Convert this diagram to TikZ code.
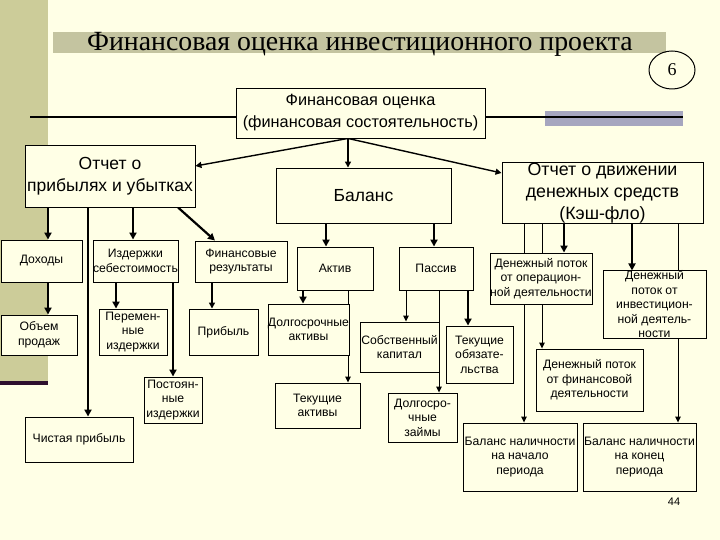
\documentclass[tikz,border=0pt]{standalone}
\usepackage{fontspec}
\setmainfont{Liberation Sans}
\newfontfamily\serifru{Liberation Serif}
\usetikzlibrary{arrows.meta,shapes.geometric}
\definecolor{bgc}{HTML}{FFFFE6}
\definecolor{band}{HTML}{CCCC99}
\definecolor{tbar}{HTML}{C4C4A0}
\definecolor{dpurp}{HTML}{2D0F2D}
\definecolor{gbar}{HTML}{A6A6BF}
\pgfdeclarelayer{back}
\pgfsetlayers{back,main}
\tikzset{
  box/.style={draw=black, line width=0.9pt, fill=bgc, inner sep=0pt, align=center, text=black},
  bigt/.style={font=\fontsize{17.5}{22}\selectfont},
  smt/.style={font=\fontsize{12.2}{14.5}\selectfont},
  thk/.style={line width=2.2pt, -{Triangle[length=7pt,width=7pt]}},
  mdm/.style={line width=1.4pt, -{Triangle[length=6pt,width=6pt]}},
  thn/.style={line width=0.9pt, -{Triangle[length=6pt,width=5.5pt]}},
}
\begin{document}
\begin{tikzpicture}[x=1pt,y=-1pt]
\useasboundingbox (0,0) rectangle (720,540);

% nodes
\node[box,font=\fontsize{16.3}{22}\selectfont,minimum width=249pt,minimum height=50pt] (top) at (360.5,113) {Финансовая оценка\\(финансовая состоятельность)};
\node[box,bigt,minimum width=170pt,minimum height=62pt] (pl) at (110,176) {Отчет о\\прибылях и убытках};
\node[box,bigt,minimum width=175pt,minimum height=55pt] (bal) at (363.5,195.5) {Баланс};
\node[box,font=\fontsize{17.8}{22}\selectfont,minimum width=201pt,minimum height=60pt] (cf) at (602.5,193) {Отчет о движении\\денежных средств\\(Кэш-фло)};

\node[box,smt,minimum width=81pt,minimum height=42pt] (doh) at (41.5,261) {Доходы};
\node[box,smt,minimum width=85pt,minimum height=42pt] (izd) at (135.5,261) {Издержки\\себестоимость};
\node[box,smt,minimum width=92pt,minimum height=41pt] (fin) at (241,261.5) {Финансовые\\результаты};
\node[box,smt,minimum width=76pt,minimum height=43pt] (akt) at (335,268.5) {Актив};
\node[box,smt,minimum width=74pt,minimum height=43pt] (pas) at (436,268.5) {Пассив};
\node[box,smt,minimum width=102pt,minimum height=51pt] (op) at (541,278.5) {Денежный поток\\от операцион-\\ной деятельности};
\node[box,smt,minimum width=103pt,minimum height=67pt] (inv) at (654.5,304.5) {Денежный\\поток от\\инвестицион-\\ной деятель-\\ности};

\node[box,smt,minimum width=76pt,minimum height=40pt] (obj) at (39,335) {Объем\\продаж};
\node[box,smt,minimum width=68pt,minimum height=46pt] (per) at (133,332) {Перемен-\\ные\\издержки};
\node[box,smt,minimum width=69pt,minimum height=46pt] (prib) at (223.5,332) {Прибыль};
\node[box,smt,minimum width=79pt,minimum height=51pt] (dolg) at (308.5,329.5) {Долгосрочные\\активы};
\node[box,smt,minimum width=85pt,minimum height=45pt] (tekakt) at (317.5,405.5) {Текущие\\активы};
\node[box,smt,minimum width=79pt,minimum height=50pt] (sob) at (399.5,347) {Собственный\\капитал};
\node[box,smt,minimum width=67pt,minimum height=57pt] (tekob) at (479.5,354.5) {Текущие\\обязате-\\льства};
\node[box,smt,minimum width=69pt,minimum height=49pt] (zaim) at (422.5,417.5) {Долгосро-\\чные\\займы};
\node[box,smt,minimum width=58pt,minimum height=46pt] (post) at (173,400) {Постоян-\\ные\\издержки};
\node[box,smt,minimum width=108pt,minimum height=45pt] (chist) at (79,439.5) {Чистая прибыль};
\node[box,smt,minimum width=107pt,minimum height=62pt] (finflow) at (589.5,380) {Денежный поток\\от финансовой\\деятельности};
\node[box,smt,minimum width=114pt,minimum height=68pt] (bstart) at (520,457) {Баланс наличности\\на начало\\периода};
\node[box,smt,minimum width=113pt,minimum height=68pt] (bend) at (639.5,457) {Баланс наличности\\на конец\\периода};

\node[font=\fontsize{11}{13}\selectfont] (pg) at (674,502) {44};
\node[draw=black,line width=1pt,ellipse,minimum width=46pt,minimum height=38pt,inner sep=0pt,font=\serifru\fontsize{18}{20}\selectfont] (six) at (672,70) {6};
\node[font=\serifru\fontsize{27.8}{30}\selectfont] (title) at (360,44) {Финансовая оценка инвестиционного проекта};

% x positions
\foreach \xx in {48,88,116,133,173,178,212,215,303,326,348,406,434,439,468,524,542,564,632,678}
  \coordinate (x\xx) at (\xx,0);
\coordinate (o) at ([xshift=-12.5pt]top.south);
\coordinate (lineL) at (30,117);
\coordinate (lineR) at (683,117);

\begin{pgfonlayer}{back}
  \fill[bgc] (0,0) rectangle (720,540);
  \fill[band] (0,0) rectangle (48,381);
  \fill[dpurp] (0,381) rectangle (48,385);
  \fill[tbar] (53,32) rectangle (666,53);
  \fill[gbar] (545,111) rectangle (683,126);
  \draw[line width=2pt] (lineL) -- (top.west |- lineL);
  \draw[line width=2pt] (top.east |- lineR) -- (lineR);

  % top arrows
  \draw[mdm] (o) -- ([yshift=10pt]pl.east);
  \draw[mdm] (o) -- (o |- bal.north);
  \draw[mdm] (o) -- ([yshift=20pt]cf.west);

  % profit report
  \draw[thk] (pl.south -| x48) -- (doh.north -| x48);
  \draw[thk] (pl.south -| x88) -- (chist.north -| x88);
  \draw[thk] (pl.south -| x133) -- (izd.north -| x133);
  \draw[thk] (pl.south -| x178) -- (fin.north -| x215);
  \draw[thk] (doh.south -| x48) -- (obj.north -| x48);
  \draw[thk] (izd.south -| x116) -- (per.north -| x116);
  \draw[thk] (izd.south -| x173) -- (post.north -| x173);
  \draw[mdm] (fin.south -| x212) -- (prib.north -| x212);

  % balance
  \draw[thk] (bal.south -| x326) -- (akt.north -| x326);
  \draw[thk] (bal.south -| x434) -- (pas.north -| x434);
  \draw[thk] (akt.south -| x303) -- (dolg.north -| x303);
  \draw[thn] (akt.south -| x348) -- (tekakt.north -| x348);
  \draw[thn] (pas.south -| x406) -- (sob.north -| x406);
  \draw[thn] (pas.south -| x439) -- (zaim.north -| x439);
  \draw[thk] (pas.south -| x468) -- (tekob.north -| x468);

  % cash flow
  \draw[thn] (cf.south -| x524) -- (bstart.north -| x524);
  \draw[thn] (cf.south -| x542) -- (finflow.north -| x542);
  \draw[thk] (cf.south -| x564) -- (op.north -| x564);
  \draw[thk] (cf.south -| x632) -- (inv.north -| x632);
  \draw[thn] (cf.south -| x678) -- (bend.north -| x678);
\end{pgfonlayer}
\end{tikzpicture}
\end{document}
